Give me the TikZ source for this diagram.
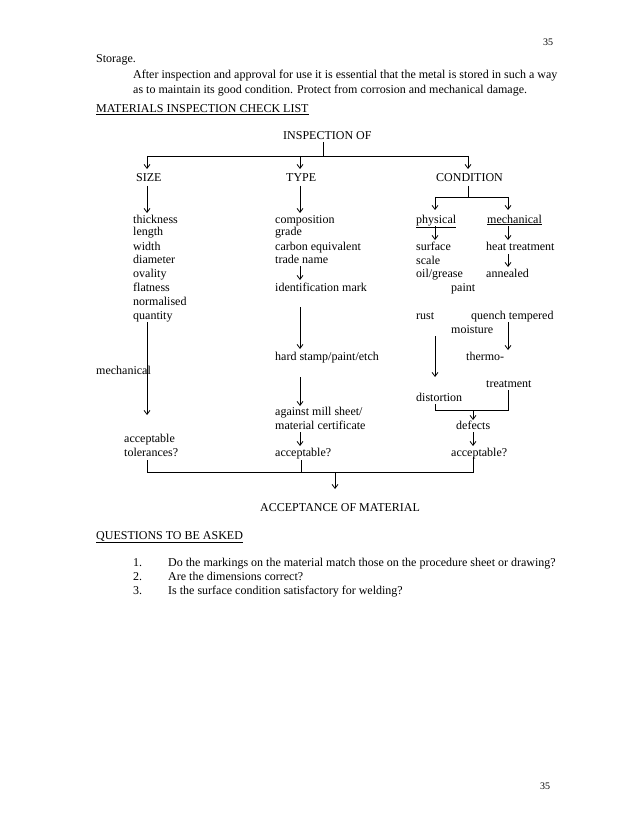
\documentclass[tikz,border=0pt]{standalone}
\usepackage{fontspec}
\setmainfont{Liberation Serif}
\usetikzlibrary{arrows.meta}
\begin{document}
\begin{tikzpicture}[x=1pt,y=-1pt,
  t/.style={anchor=base west,inner sep=0pt,font=\fontsize{12}{14}\selectfont},
  arr/.style={-{Straight Barb[length=4pt,width=6pt]},line width=0.8pt},
  ln/.style={line width=0.8pt}]
\useasboundingbox[fill=white] (0,0) rectangle (638,826);
% header text
\node[t,font=\fontsize{10}{12}\selectfont] (pgtop) at (543,46) {35};
\node[t] (storage) at (96,63) {Storage.};
\node[t] (p1) at (133,79) {After inspection and approval for use it is essential that the metal is stored in such a way};
\node[t] (p2) at (133,94) {as to maintain its good condition. Protect from corrosion and mechanical damage.};
\node[t] (title) at (96,113) {\underline{MATERIALS INSPECTION CHECK LIST}};
% top level
\node[t] (insp) at (283,140) {INSPECTION OF};
\node[t] (size) at (136,182) {SIZE};
\node[t] (type) at (286,182) {TYPE};
\node[t] (cond) at (436,182) {CONDITION};
\node[t] (phys) at (416,223) {\underline{physical}};
\node[t] (mech) at (487,223) {\underline{mechanical}};
% left column
\node[t] (l1) at (133,223) {thickness};
\node[t] (l2) at (133,236) {length};
\node[t] (l3) at (133,250) {width};
\node[t] (l4) at (133,263) {diameter};
\node[t] (l5) at (133,277) {ovality};
\node[t] (l6) at (133,291) {flatness};
\node[t] (l7) at (133,305) {normalised};
\node[t] (l8) at (133,319) {quantity};
\node[t] (lmech) at (96,374) {mechanical};
\node[t] (lacc1) at (124,442) {acceptable};
\node[t] (lacc2) at (124,456) {tolerances?};
% middle column
\node[t] (m1) at (275,223) {composition};
\node[t] (m2) at (275,236) {grade};
\node[t] (m3) at (275,250) {carbon equivalent};
\node[t] (m4) at (275,263) {trade name};
\node[t] (m5) at (275,291) {identification mark};
\node[t] (m6) at (275,360) {hard stamp/paint/etch};
\node[t] (m7) at (275,415) {against mill sheet/};
\node[t] (m8) at (275,429) {material certificate};
\node[t] (macc) at (275,456) {acceptable?};
% right column
\node[t] (r1) at (416,250) {surface};
\node[t] (r2) at (416,264) {scale};
\node[t] (r3) at (416,277) {oil/grease};
\node[t] (r4) at (451,291) {paint};
\node[t] (r5) at (416,319) {rust};
\node[t] (r6) at (451,333) {moisture};
\node[t] (r7) at (416,401) {distortion};
\node[t] (s1) at (486,250) {heat treatment};
\node[t] (s2) at (486,277) {annealed};
\node[t] (s3) at (471,319) {quench tempered};
\node[t] (s4) at (466,360) {thermo-};
\node[t] (s5) at (486,387) {treatment};
\node[t] (defects) at (456,429) {defects};
\node[t] (racc) at (451,456) {acceptable?};
\node[t] (final) at (260,511) {ACCEPTANCE OF MATERIAL};
% questions
\node[t] (qtitle) at (96,539) {\underline{QUESTIONS TO BE ASKED}};
\node[t] (q1n) at (133,566) {1.};
\node[t] (q1) at (168,566) {Do the markings on the material match those on the procedure sheet or drawing?};
\node[t] (q2n) at (133,580) {2.};
\node[t] (q2) at (168,580) {Are the dimensions correct?};
\node[t] (q3n) at (133,594) {3.};
\node[t] (q3) at (168,594) {Is the surface condition satisfactory for welding?};
\node[t,font=\fontsize{10}{12}\selectfont] (pgbot) at (540,789) {35};
% coordinates
\coordinate (i0) at (323,142); \coordinate (i1) at (323,156);
\coordinate (hL) at (147,156); \coordinate (hM) at (300,156); \coordinate (hR) at (468,156);
\coordinate (sizeA) at (147,169); \coordinate (typeA) at (300,169); \coordinate (condA) at (468,169);
\coordinate (sizeB) at (147,186); \coordinate (sizeC) at (147,213);
\coordinate (typeB) at (300,186); \coordinate (typeC) at (300,213);
\coordinate (condB) at (468,186); \coordinate (condC) at (468,197);
\coordinate (cL) at (435,197); \coordinate (cR) at (508,197);
\coordinate (physA) at (435,210); \coordinate (mechA) at (508,210);
\coordinate (physB) at (435,226); \coordinate (physC) at (435,240);
\coordinate (mechB) at (508,226); \coordinate (mechC) at (508,240);
\coordinate (tnA) at (300,266); \coordinate (tnB) at (300,280);
\coordinate (htA) at (508,254); \coordinate (htB) at (508,267);
\coordinate (qA) at (147,322); \coordinate (qB) at (147,415);
\coordinate (idA) at (300,307); \coordinate (idB) at (300,349);
\coordinate (hsA) at (300,377); \coordinate (hsB) at (300,406);
\coordinate (mcA) at (300,432); \coordinate (mcB) at (300,446);
\coordinate (ruA) at (435,336); \coordinate (ruB) at (435,377);
\coordinate (quA) at (508,322); \coordinate (quB) at (508,350);
\coordinate (diA) at (435,404); \coordinate (diB) at (435,410);
\coordinate (trA) at (508,390); \coordinate (trB) at (508,410);
\coordinate (dfA) at (473,410); \coordinate (dfB) at (473,420);
\coordinate (dfC) at (473,432); \coordinate (dfD) at (473,446);
\coordinate (aL) at (147,460); \coordinate (aLb) at (147,472);
\coordinate (aM) at (301,460); \coordinate (aMb) at (301,472);
\coordinate (aR) at (473,457); \coordinate (aRb) at (473,472);
\coordinate (fA) at (335,472); \coordinate (fB) at (335,489);
% connectors
\draw[ln] (i0) -- (i1);
\draw[ln] (hL) -- (hR);
\draw[arr] (hL) -- (sizeA);
\draw[arr] (hM) -- (typeA);
\draw[arr] (hR) -- (condA);
\draw[arr] (sizeB) -- (sizeC);
\draw[arr] (typeB) -- (typeC);
\draw[ln] (condB) -- (condC);
\draw[ln] (cL) -- (cR);
\draw[arr] (cL) -- (physA);
\draw[arr] (cR) -- (mechA);
\draw[arr] (physB) -- (physC);
\draw[arr] (mechB) -- (mechC);
\draw[arr] (tnA) -- (tnB);
\draw[arr] (htA) -- (htB);
\draw[arr] (qA) -- (qB);
\draw[arr] (idA) -- (idB);
\draw[arr] (hsA) -- (hsB);
\draw[arr] (mcA) -- (mcB);
\draw[arr] (ruA) -- (ruB);
\draw[arr] (quA) -- (quB);
\draw[ln] (diA) -- (diB) -- (trB) -- (trA);
\draw[arr] (dfA) -- (dfB);
\draw[arr] (dfC) -- (dfD);
\draw[ln] (aL) -- (aLb) -- (aRb) -- (aR);
\draw[ln] (aM) -- (aMb);
\draw[arr] (fA) -- (fB);
\end{tikzpicture}
\end{document}
